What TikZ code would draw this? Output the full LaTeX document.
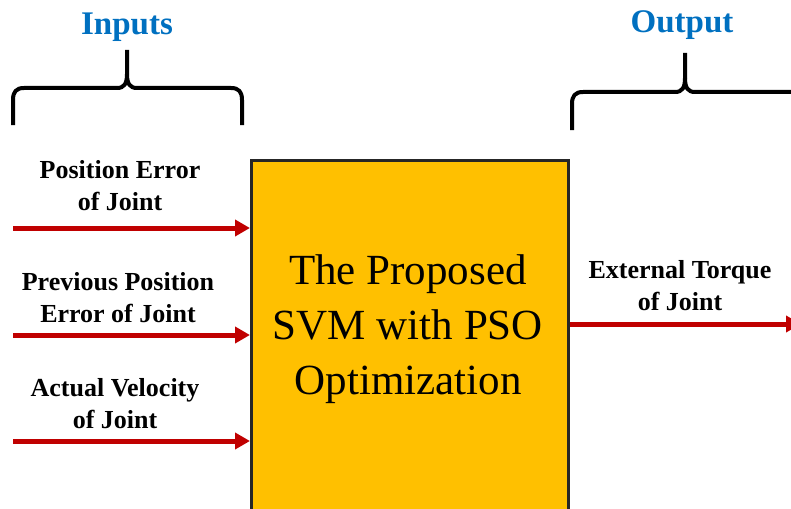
\documentclass[tikz,border=0pt]{standalone}
\usepackage{fontspec}
\setmainfont{Liberation Serif}
\usetikzlibrary{arrows.meta,positioning}
\definecolor{ink}{HTML}{000000}
\definecolor{edge}{HTML}{262626}
\definecolor{svmfill}{HTML}{FFC000}
\definecolor{flowred}{HTML}{C00000}
\definecolor{headblue}{HTML}{0070C0}
\newcommand{\labsize}{\fontsize{26}{32}\selectfont}
\newcommand{\boxsize}{\fontsize{43}{55}\selectfont}
\newcommand{\headsize}{\fontsize{33}{40}\selectfont}
\tikzset{
 every node/.append style={text=ink,align=center,inner sep=0pt},
 svmbox/.style={draw=edge,fill=svmfill,line width=3pt},
 boxtext/.style={font=\boxsize},
 inlabel/.style={font=\labsize\bfseries},
 heading/.style={font=\headsize\bfseries,text=headblue},
 flow/.style={-{Triangle[length=15pt,width=16pt]},draw=flowred,line width=5pt},
 bracket/.style={draw=ink,line width=4pt,line join=round,line cap=butt},
}

\begin{document}
\begin{tikzpicture}[x=1pt,y=-1pt]

\useasboundingbox (0,0) rectangle (791,508);
\node[svmbox,minimum width=317pt,minimum height=370pt,anchor=north west] (svm) at (250,159) {};
\node[boxtext] (svmtext) at (408,329) {The Proposed\\SVM with PSO\\Optimization};

% inputs
\node[inlabel] (pos) at (120,186) {Position Error\\of Joint};
\node[inlabel] (prev) at (118,298) {Previous Position\\Error of Joint};
\node[inlabel] (vel) at (115,404) {Actual Velocity\\of Joint};
\coordinate (in1) at (13,228);
\coordinate (in2) at (13,335);
\coordinate (in3) at (13,441);
\draw[flow] (in1) -- (svm.west |- in1);
\draw[flow] (in2) -- (svm.west |- in2);
\draw[flow] (in3) -- (svm.west |- in3);

% output
\node[inlabel] (torque) at (680,286) {External Torque\\of Joint};
\coordinate (out) at (801,324);
\draw[flow] (svm.east |- out) -- (out);

% braces and headings
\node[heading] (inputs) at (127,27) {Inputs};
\node[heading] (output) at (682,25) {Output};
\draw[bracket] (13,125) -- (13,100) .. controls (13,92) and (16,88) .. (24,88) -- (117,88) .. controls (124,88) and (127,84) .. (127,74) -- (127,50);
\draw[bracket] (242,125) -- (242,100) .. controls (242,92) and (239,88) .. (231,88) -- (137,88) .. controls (130,88) and (127,84) .. (127,74);
\draw[bracket] (572,130) -- (572,104) .. controls (572,96) and (575,92) .. (583,92) -- (675,92) .. controls (682,92) and (685,88) .. (685,78) -- (685,53);
\draw[bracket] (800,92) -- (695,92) .. controls (688,92) and (685,88) .. (685,78);

\end{tikzpicture}
\end{document}
